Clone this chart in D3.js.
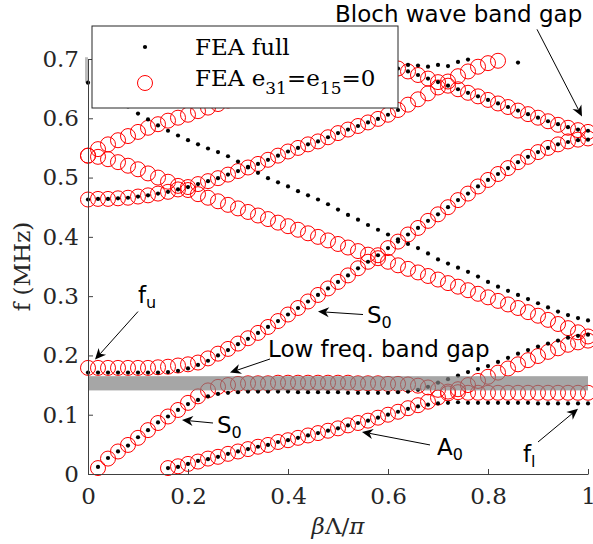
<!DOCTYPE html>
<html>
<head>
<meta charset="utf-8">
<script src="https://cdn.jsdelivr.net/npm/d3@7"></script>
<style>
body { margin: 0; background: #fff; }
svg { display: block; }
</style>
</head>
<body>
<div id="chart"></div>
<script>
// figure size
const width = 593;
const height = 544;
const margin = {top: 59, right: 5, bottom: 70, left: 88};
const chart_width = width - margin.left - margin.right;
const chart_height = height - margin.top - margin.bottom;

// wavenumber grid (beta*Lambda/pi)
const beta = [0, 0.02, 0.04, 0.06, 0.08, 0.10, 0.12, 0.14, 0.16, 0.18,
              0.20, 0.22, 0.24, 0.26, 0.28, 0.30, 0.32, 0.34, 0.36, 0.38,
              0.40, 0.42, 0.44, 0.46, 0.48, 0.50, 0.52, 0.54, 0.56, 0.58,
              0.60, 0.62, 0.64, 0.66, 0.68, 0.70, 0.72, 0.74, 0.76, 0.78,
              0.80, 0.82, 0.84, 0.86, 0.88, 0.90, 0.92, 0.94, 0.96, 0.98, 1.00];

const xTicks = [0, 0.2, 0.4, 0.6, 0.8, 1];
const yTicks = [0, 0.1, 0.2, 0.3, 0.4, 0.5, 0.6, 0.7];

// FEA e31=e15=0 (red circles), f in MHz, each starts at beta index "start"
const redS0Low = {start: 1, f: [
  0.010, 0.026, 0.038, 0.049, 0.061, 0.074, 0.086, 0.097, 0.108, 0.120,
  0.131, 0.141, 0.147, 0.150, 0.152, 0.153,
  0.153, 0.153, 0.154, 0.154, 0.154, 0.154, 0.154, 0.154, 0.154, 0.154,
  0.153, 0.153, 0.153, 0.152, 0.152, 0.151,
  0.149, 0.146, 0.142, 0.139, 0.138,
  0.137, 0.137, 0.137, 0.137, 0.137, 0.137, 0.137, 0.137, 0.137, 0.137,
  0.137, 0.137, 0.137]};
const redA0 = {start: 8, f: [
  0.010, 0.013, 0.017, 0.021, 0.026, 0.029, 0.034, 0.038, 0.042, 0.046,
  0.049, 0.054, 0.057, 0.061, 0.065, 0.069, 0.073, 0.077, 0.082, 0.086,
  0.090, 0.095, 0.100, 0.105, 0.111, 0.116, 0.122, 0.129, 0.136, 0.143,
  0.150, 0.157, 0.164, 0.171, 0.178, 0.185, 0.192, 0.199, 0.206, 0.212,
  0.218, 0.222, 0.225]};
const redFu = {start: 0, f: [
  0.179, 0.179, 0.179, 0.179, 0.179, 0.179, 0.179, 0.180, 0.181, 0.183,
  0.185, 0.188, 0.195, 0.203, 0.211, 0.220, 0.229, 0.238, 0.248, 0.258,
  0.269, 0.280, 0.291, 0.302, 0.313, 0.324, 0.335, 0.347, 0.358, 0.369,
  0.381, 0.392, 0.404, 0.415, 0.427, 0.438, 0.450, 0.462, 0.473, 0.485,
  0.496, 0.506, 0.516, 0.526, 0.535, 0.543, 0.550, 0.556, 0.561, 0.564,
  0.566]};
const redDesc = {start: 0, f: [
  0.537, 0.535, 0.531, 0.526, 0.520, 0.514, 0.507, 0.500, 0.493, 0.486,
  0.479, 0.472, 0.466, 0.460, 0.454, 0.448, 0.442, 0.436, 0.430, 0.424,
  0.418, 0.412, 0.406, 0.400, 0.394, 0.388, 0.382, 0.376, 0.370, 0.364,
  0.358, 0.352, 0.346, 0.340, 0.334, 0.328, 0.322, 0.316, 0.310, 0.304,
  0.298, 0.292, 0.286, 0.280, 0.273, 0.267, 0.260, 0.253, 0.246, 0.239,
  0.232]};
const redUpper = {start: 0, f: [
  0.537, 0.548, 0.556, 0.563, 0.570, 0.577, 0.584, 0.590, 0.596, 0.601,
  0.606, 0.612, 0.618, 0.624, 0.630, 0.635, 0.641, 0.647, 0.652, 0.658,
  0.663, 0.668, 0.673, 0.678, 0.683, 0.687, 0.690, 0.692, 0.692, 0.690,
  0.688, 0.684, 0.679, 0.673, 0.667, 0.661, 0.655, 0.649, 0.643, 0.637,
  0.631, 0.625, 0.619, 0.613, 0.607, 0.601, 0.595, 0.589, 0.584, 0.580,
  0.577]};
const redMid = {start: 0, f: [
  0.463, 0.464, 0.464, 0.465, 0.466, 0.468, 0.470, 0.473, 0.476, 0.480,
  0.484, 0.489, 0.494, 0.499, 0.505, 0.511, 0.517, 0.523, 0.530, 0.537,
  0.544, 0.550, 0.556, 0.561, 0.568, 0.575, 0.581, 0.587, 0.593, 0.599,
  0.606, 0.614, 0.623, 0.632, 0.642, 0.652, 0.662, 0.671, 0.679, 0.687,
  0.693, 0.697]};

// FEA full (black dots)
const fullS0Low = {start: 1, f: [
  0.012, 0.027, 0.038, 0.048, 0.062, 0.074, 0.087, 0.097, 0.108, 0.118,
  0.125, 0.131, 0.135, 0.137, 0.138, 0.139,
  0.139, 0.139, 0.139, 0.139, 0.138, 0.138, 0.138, 0.138, 0.138, 0.137,
  0.137, 0.137, 0.137, 0.137, 0.138, 0.139,
  0.142, 0.147, 0.154, 0.160, 0.166,
  0.172, 0.177, 0.182, 0.189, 0.196, 0.203, 0.209, 0.215, 0.220, 0.225,
  0.230, 0.233, 0.235]};
const fullA0 = {start: 8, f: [
  0.010, 0.012, 0.017, 0.022, 0.025, 0.029, 0.034, 0.038, 0.042, 0.046,
  0.049, 0.054, 0.057, 0.061, 0.065, 0.069, 0.073, 0.077, 0.082, 0.086,
  0.090, 0.095, 0.100, 0.105, 0.110, 0.114, 0.117, 0.119, 0.120,
  0.121, 0.120, 0.120, 0.120, 0.120, 0.120, 0.120, 0.120, 0.119, 0.119,
  0.119, 0.119, 0.119, 0.119]};
const fullFu = {start: 0, f: [
  0.171, 0.171, 0.171, 0.171, 0.171, 0.171, 0.171, 0.171, 0.172, 0.174,
  0.178, 0.184, 0.191, 0.200, 0.209, 0.219, 0.228, 0.238, 0.248, 0.258,
  0.269, 0.280, 0.291, 0.302, 0.313, 0.324, 0.335, 0.347, 0.358, 0.369,
  0.381, 0.392, 0.404, 0.415, 0.427, 0.438, 0.450, 0.462, 0.473, 0.485,
  0.496, 0.506, 0.516, 0.526, 0.535, 0.543, 0.550, 0.556, 0.560, 0.563,
  0.564]};
const fullDesc = {start: 0, f: [
  0.660, 0.656, 0.648, 0.638, 0.620, 0.608, 0.598, 0.588, 0.579, 0.571,
  0.563, 0.556, 0.549, 0.543, 0.536, 0.527, 0.518, 0.508, 0.499, 0.492,
  0.485, 0.477, 0.470, 0.463, 0.455, 0.446, 0.437, 0.429, 0.420, 0.412,
  0.404, 0.396, 0.388, 0.381, 0.372, 0.362, 0.355, 0.348, 0.341, 0.333,
  0.324, 0.316, 0.309, 0.302, 0.295, 0.288, 0.281, 0.274, 0.268, 0.263,
  0.259]};
const fullUpper = {start: 29, f: [
  0.690, 0.688, 0.684, 0.679, 0.673, 0.667, 0.661, 0.655, 0.649, 0.643,
  0.637, 0.631, 0.625, 0.619, 0.613, 0.607, 0.601, 0.595, 0.590, 0.585,
  0.581, 0.579]};
const fullMid = {start: 0, f: [
  0.463, 0.464, 0.464, 0.465, 0.466, 0.468, 0.470, 0.473, 0.476, 0.480,
  0.484, 0.489, 0.494, 0.499, 0.505, 0.511, 0.517, 0.523, 0.530, 0.537,
  0.544, 0.550, 0.556, 0.561, 0.568, 0.575, 0.581, 0.587, 0.593, 0.599,
  0.606, 0.614, 0.690, 0.689, 0.687, 0.690, 0.688, 0.695, 0.699]};
const fullTop = {start: 43, f: [0.694]};

// shaded band gaps [f_low, f_high] over beta range
const gapLow = {b: [0, 1], f: [0.141, 0.165]};
const gapHigh = {b: [-0.006, 0], f: [0.660, 0.703]};

const redSeries = [redS0Low, redA0, redFu, redDesc, redUpper, redMid];
const fullSeries = [fullS0Low, fullA0, fullFu, fullDesc, fullUpper, fullMid, fullTop];

function points(s) {
  return s.f.map((f, i) => ({b: beta[s.start + i], f: f}));
}

// scales
var x_scale = d3.scaleLinear().domain([0, 1]).range([0, chart_width]);
var y_scale = d3.scaleLinear().domain([0, 0.7]).range([chart_height, 0]);

var svg = d3.select("#chart")
    .append("svg")
    .attr("width", width)
    .attr("height", height)
    .style("font-family", "DejaVu Serif");

var g = svg.append("g")
    .attr("transform", `translate(${margin.left}, ${margin.top})`);

// small gray gap sliver at the top left
g.append("rect")
    .attr("x", x_scale(gapHigh.b[0]))
    .attr("width", x_scale(gapHigh.b[1]) - x_scale(gapHigh.b[0]))
    .attr("y", y_scale(gapHigh.f[1]))
    .attr("height", y_scale(gapHigh.f[0]) - y_scale(gapHigh.f[1]))
    .attr("fill", "#bdbdbd");

// red circles
redSeries.forEach(s => {
  g.append("g").selectAll("circle")
    .data(points(s))
    .enter()
    .append("circle")
    .attr("cx", d => x_scale(d.b))
    .attr("cy", d => y_scale(d.f))
    .attr("r", 7.5)
    .attr("fill", "none")
    .attr("stroke", "#ff0000")
    .attr("stroke-width", 1);
});

// black dots
fullSeries.forEach(s => {
  g.append("g").selectAll("circle")
    .data(points(s))
    .enter()
    .append("circle")
    .attr("cx", d => x_scale(d.b))
    .attr("cy", d => y_scale(d.f))
    .attr("r", 2.1)
    .attr("fill", "#000");
});

// low frequency band gap patch (semi transparent, on top of markers)
g.append("rect")
    .attr("x", x_scale(gapLow.b[0]))
    .attr("width", x_scale(gapLow.b[1]) - x_scale(gapLow.b[0]))
    .attr("y", y_scale(gapLow.f[1]))
    .attr("height", y_scale(gapLow.f[0]) - y_scale(gapLow.f[1]))
    .attr("fill", "#808080")
    .attr("fill-opacity", 0.7);

// axes, ticks inside like matlab
var x_axis = d3.axisBottom(x_scale)
    .tickValues(xTicks)
    .tickFormat(d3.format("~g"))
    .tickSizeInner(-5).tickSizeOuter(0).tickPadding(14);
var y_axis = d3.axisLeft(y_scale)
    .tickValues(yTicks)
    .tickFormat(d3.format("~g"))
    .tickSizeInner(-5).tickSizeOuter(0).tickPadding(9);

var gx = g.append("g")
   .attr("transform", `translate(0, ${chart_height})`)
   .call(x_axis);
var gy = g.append("g").call(y_axis);

[gx, gy].forEach(a => {
  a.selectAll("path, line").attr("stroke", "#404040").attr("stroke-width", 1);
  a.selectAll("text")
    .attr("fill", "#262626")
    .style("font-family", "DejaVu Serif")
    .style("font-size", "23px");
});

// axis labels
var xl = g.append("text")
    .attr("x", chart_width / 2)
    .attr("y", chart_height + 60)
    .attr("text-anchor", "middle")
    .attr("fill", "#262626")
    .style("font-size", "23px");
xl.append("tspan").style("font-style", "italic").text("β");
xl.append("tspan").text("Λ/");
xl.append("tspan").style("font-style", "italic").text("π");

g.append("text")
    .attr("transform", `translate(${-58}, ${chart_height / 2}) rotate(-90)`)
    .attr("text-anchor", "middle")
    .attr("fill", "#262626")
    .style("font-size", "23px")
    .text("f (MHz)");

// annotations: [label, subscript, text pos, arrow start, arrow tip] in data units
const notes = [
  {label: "Bloch wave band gap", sub: "", at: [0.494, 0.763], from: [0.898, 0.750], to: [0.988, 0.603]},
  {label: "f", sub: "u", at: [0.100, 0.289], from: [0.100, 0.274], to: [0.014, 0.193]},
  {label: "Low freq. band gap", sub: "", at: [0.360, 0.198], from: [0.364, 0.194], to: [0.284, 0.171]},
  {label: "S", sub: "0", at: [0.558, 0.255], from: [0.550, 0.269], to: [0.460, 0.274]},
  {label: "S", sub: "0", at: [0.258, 0.069], from: [0.250, 0.086], to: [0.188, 0.091]},
  {label: "A", sub: "0", at: [0.698, 0.032], from: [0.684, 0.049], to: [0.548, 0.071]},
  {label: "f", sub: "l", at: [0.870, 0.020], from: [0.900, 0.054], to: [0.980, 0.110]}
];

var ann = g.append("g").style("font-family", "DejaVu Sans");
notes.forEach(n => {
  var t = ann.append("text")
    .attr("x", x_scale(n.at[0]))
    .attr("y", y_scale(n.at[1]))
    .attr("fill", "#000")
    .style("font-size", "23px");
  t.append("tspan").text(n.label);
  if (n.sub) {
    t.append("tspan").attr("dy", 5).style("font-size", "16px").text(n.sub);
  }
  var x1 = x_scale(n.from[0]), y1 = y_scale(n.from[1]);
  var x2 = x_scale(n.to[0]), y2 = y_scale(n.to[1]);
  var ang = Math.atan2(y2 - y1, x2 - x1);
  var L = 11, W = 5;
  var bx = x2 - L * Math.cos(ang), by = y2 - L * Math.sin(ang);
  var mx = x2 - 0.7 * L * Math.cos(ang), my = y2 - 0.7 * L * Math.sin(ang);
  ann.append("line")
    .attr("x1", x1).attr("y1", y1).attr("x2", mx).attr("y2", my)
    .attr("stroke", "#000").attr("stroke-width", 1);
  var px = -Math.sin(ang), py = Math.cos(ang);
  ann.append("path")
    .attr("d", `M${x2},${y2} L${bx + W * px},${by + W * py} L${mx},${my} L${bx - W * px},${by - W * py} Z`)
    .attr("fill", "#000");
});

// legend
var lg = svg.append("g").attr("transform", "translate(92, 26)");
lg.append("rect")
    .attr("width", 306).attr("height", 82)
    .attr("fill", "#fff").attr("stroke", "#262626").attr("stroke-width", 1);
lg.append("circle").attr("cx", 53).attr("cy", 21).attr("r", 2.1).attr("fill", "#000");
lg.append("circle").attr("cx", 53).attr("cy", 57).attr("r", 7.5)
    .attr("fill", "none").attr("stroke", "#ff0000");
lg.append("text").attr("x", 103).attr("y", 29)
    .attr("fill", "#000").style("font-size", "23px").text("FEA full");
var l2 = lg.append("text").attr("x", 103).attr("y", 60)
    .attr("fill", "#000").style("font-size", "23px");
l2.append("tspan").text("FEA e");
l2.append("tspan").attr("dy", 8).style("font-size", "17px").text("31");
l2.append("tspan").attr("dy", -8).text("=e");
l2.append("tspan").attr("dy", 8).style("font-size", "17px").text("15");
l2.append("tspan").attr("dy", -8).text("=0");
</script>
</body>
</html>
